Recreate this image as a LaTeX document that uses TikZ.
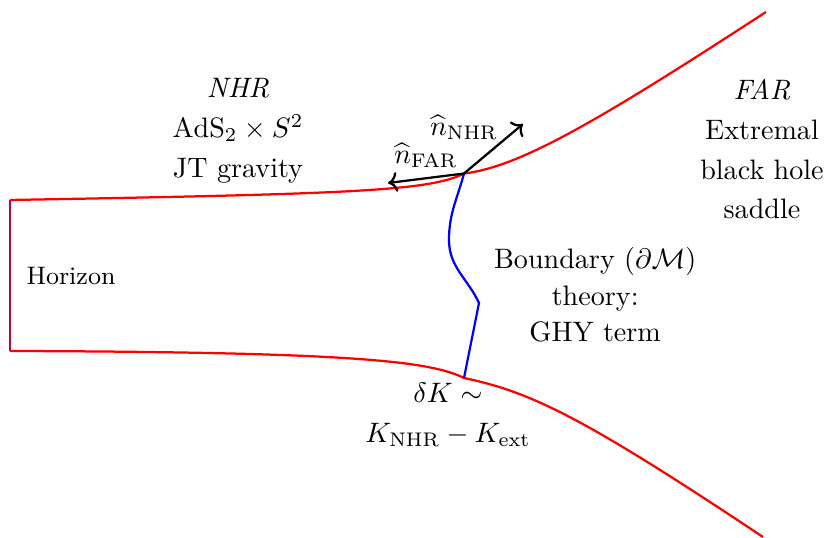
\documentclass[tikz,border=0pt]{standalone}
\usepackage{amsmath,amssymb}
\usepackage{tikz}
\usetikzlibrary{arrows.meta,positioning,calc}

\begin{document}
\begin{tikzpicture}[
  every node/.style={font=\normalsize},
  region/.style={align=center},
  wall/.style={red,thick},
  bdy/.style={blue,thick},
  arr/.style={->,thick,black},
]
\useasboundingbox (0,0) rectangle (10.325,6.725);

%% ── Key points ───────────────────────────────────────────────────────────
\coordinate (htop) at (0.125,4.225);
\coordinate (hbot) at (0.125,2.3375);
\coordinate (jtop) at (5.8,4.556);
\coordinate (jbot) at (5.8,2.0);
\coordinate (utip) at (9.575,6.575);
\coordinate (ltip) at (9.5375,0.0125);
\coordinate (nnhrend) at (6.5375,5.175);
\coordinate (nfarend) at (4.85,4.4375);

%% ── Throat walls ─────────────────────────────────────────────────────────
\draw[wall] (htop) .. controls (4.375,4.3) and (5.375,4.3375) .. (jtop)
  .. controls (6.5,4.6375) and (7.5,5.225) .. (utip);
\draw[wall] (hbot) .. controls (4.375,2.325) and (5.375,2.2125) .. (jbot)
  .. controls (6.625,1.825) and (7.25,1.5375) .. (ltip);
\draw[purple,thick] (htop) -- (hbot);

%% ── Boundary surface ─────────────────────────────────────────────────────
\draw[bdy] (jtop) to[out=-105,in=90] (5.6125,3.725)
  to[out=-90,in=115] (5.9875,2.9375) -- (jbot);

%% ── Normals ──────────────────────────────────────────────────────────────
\draw[arr] (jtop) -- (nnhrend);
\draw[arr] (jtop) -- node[above] (nfar) {$\widehat{n}_{\mathrm{FAR}}$} (nfarend);
\node (nnhr) at (5.8,5.13) {$\widehat{n}_{\mathrm{NHR}}$};

%% ── Labels ───────────────────────────────────────────────────────────────
\node[region] (nhr) at (2.975,5.0875)
  {\textit{NHR}\\[2.2pt] $\mathrm{AdS}_2\times S^2$\\[2.2pt] JT gravity};
\node[region] (far) at (9.525,4.86)
  {\textit{FAR}\\[2.2pt] Extremal\\[2.2pt] black hole\\[2.2pt] saddle};
\node[region] (bdytxt) at (7.44,3.04)
  {Boundary $(\partial\mathcal{M})$\\[1pt] theory:\\[1pt] GHY term};
\node[region] (dk) at (5.6,1.54)
  {$\delta K\sim$\\[2.2pt] $K_{\mathrm{NHR}}-K_{\mathrm{ext}}$};
\node[font=\small] (hor) at (0.8875,3.275) {Horizon};

\end{tikzpicture}
\end{document}
